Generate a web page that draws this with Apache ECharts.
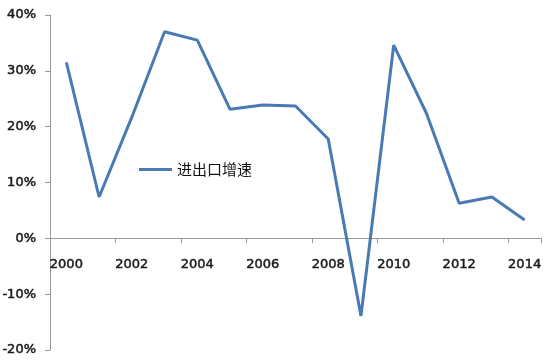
<!DOCTYPE html>
<html>
<head>
<meta charset="utf-8">
<script src="https://cdn.jsdelivr.net/npm/echarts@6/dist/echarts.min.js"></script>
<style>html,body{margin:0;padding:0;background:#fff;}#c{width:555px;height:362px;}</style>
</head>
<body>
<div id="c"></div>
<script>
var years = ['2000','2001','2002','2003','2004','2005','2006','2007','2008','2009','2010','2011','2012','2013','2014'];
var growth = [31.5, 7.4, 21.7, 37.0, 35.5, 23.1, 23.9, 23.7, 17.8, -13.9, 34.6, 22.4, 6.3, 7.4, 3.3];
var seriesName = '进出口增速';

var labelFont = {fontFamily: 'DejaVu Sans', fontSize: 13, color: '#1a1a1a', textBorderColor: '#1a1a1a', textBorderWidth: 0.5};

var chart = echarts.init(document.getElementById('c'), null, {renderer: 'canvas'});
chart.setOption({
  animation: false,
  backgroundColor: '#ffffff',
  grid: {left: 50, right: 14, top: 15, bottom: 12, containLabel: false, outerBoundsMode: 'none'},
  legend: {
    data: [seriesName],
    left: 134, top: 157,
    itemWidth: 33, itemHeight: 3, itemGap: 4,
    icon: 'rect',
    textStyle: {fontFamily: 'Noto Sans CJK SC', fontSize: 15, color: '#111'}
  },
  xAxis: {
    type: 'category',
    data: years,
    boundaryGap: true,
    position: 'bottom',
    offset: -112,
    axisLine: {onZero: false, lineStyle: {color: '#999', width: 1}},
    axisTick: {show: true, interval: 1, length: 5, lineStyle: {color: '#999'}},
    axisLabel: Object.assign({interval: 1, margin: 20}, labelFont),
    splitLine: {show: false}
  },
  yAxis: {
    type: 'value',
    min: -20, max: 40, interval: 10,
    axisLine: {show: true, lineStyle: {color: '#999', width: 1}},
    axisTick: {show: true, length: 5, lineStyle: {color: '#999'}},
    axisLabel: Object.assign({formatter: '{value}%', margin: 14}, labelFont),
    splitLine: {show: false}
  },
  series: [{
    name: seriesName,
    type: 'line',
    data: growth,
    symbol: 'none',
    lineStyle: {color: '#4a7ab3', width: 3},
    itemStyle: {color: '#4a7ab3'}
  }]
});
</script>
</body>
</html>
